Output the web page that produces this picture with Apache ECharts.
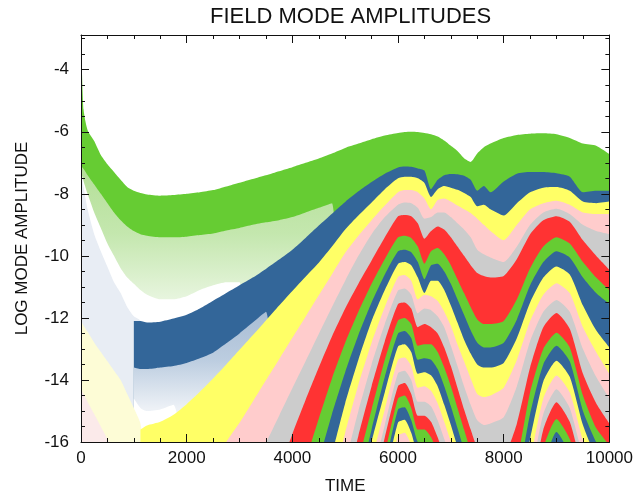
<!DOCTYPE html>
<html>
<head>
<meta charset="utf-8">
<title>Field mode amplitudes</title>
<script src="https://cdn.jsdelivr.net/npm/echarts@6/dist/echarts.min.js"></script>
<style>
html, body { margin: 0; padding: 0; background: #fff; }
#chart { width: 636px; height: 500px; }
</style>
</head>
<body>
<div id="chart"></div>
<script>
// shared time grid (denser early on and around the first collapse)
var times = [0, 50, 125, 250, 375, 500, 625, 750, 875, 1000, 1125, 1250,
  1500, 1750, 2000, 2250, 2500, 2750, 3000, 3250, 3500, 3750, 4000, 4250, 4500, 4750, 5000, 5250, 5500, 5750,
  6000, 6125, 6250, 6375, 6500, 6625, 6750, 6875, 7000, 7125, 7250, 7375, 7500, 7625, 7750,
  8000, 8250, 8500, 8750, 9000, 9250, 9500, 9750, 10000];

var yTicks = [-16, -14, -12, -10, -8, -6, -4];

// mode 1 (green): top of band, bottom of solid part, bottom of faint fringe
var mode1Top = [-2.85, -5.3, -5.95, -6.3, -6.75, -7.05, -7.3, -7.55, -7.78, -7.9, -7.97, -8.02,
  -8.06, -8.04, -8.0, -7.95, -7.88, -7.76, -7.64, -7.52, -7.4, -7.27, -7.14, -7.0, -6.86, -6.7, -6.52, -6.38, -6.24, -6.12,
  -6.04, -6.01, -6.0, -6.01, -6.04, -6.08, -6.15, -6.28, -6.45, -6.62, -6.85, -6.97, -6.7, -6.5, -6.38,
  -6.2, -6.1, -6.06, -6.05, -6.08, -6.2, -6.38, -6.45, -6.72];
var mode1Solid = [-7.1, -7.2, -7.4, -7.7, -8.0, -8.3, -8.6, -8.85, -9.05, -9.2, -9.3, -9.35,
  -9.4, -9.4, -9.38, -9.33, -9.28, -9.18, -9.1, -9.0, -8.92, -8.85, -8.75, -8.6, -8.45, -8.3, -17];
var mode1Fringe = [-7.3, -7.6, -8.0, -8.6, -9.1, -9.6, -10.0, -10.4, -10.7, -10.9, -11.1, -11.25,
  -11.4, -11.4, -11.3, -11.1, -10.95, -10.85, -10.85, -17];

// mode 2 (blue)
var mode2Haze = [-7.3, -7.8, -8.5, -9.3, -9.85, -10.35, -10.85, -11.2, -11.65, -11.95, -12.1, -17];
var mode2Top = [-12.1, -12.1, -12.15, -12.12, -12.02, -11.9, -11.7, -11.45, -11.2, -10.95, -10.7,
  -10.42, -10.12, -9.8, -9.42, -9.02, -8.64, -8.26, -7.92, -7.62, -7.35,
  -7.15, -7.12, -7.13, -7.18, -7.25, -7.85, -7.55, -7.4, -7.36, -7.37, -7.42, -7.55, -7.9, -7.75, -7.95,
  -7.6, -7.35, -7.3, -7.3, -7.34, -7.45, -7.95, -7.9, -7.9];
var mode2Solid = [-13.6, -13.65, -13.65, -13.6, -13.55, -13.45, -13.3, -13.12, -12.82, -12.5, -12.15, -11.8, -17];
var mode2Fringe = [-14.6, -14.9, -15.0, -14.95, -14.8, -17];

// mode 3 (yellow)
var mode3Haze = [-12.1, -12.25, -12.45, -12.8, -13.1, -13.4, -13.7, -14.0, -14.45, -14.9, -15.4, -17];
var mode3Top = [-15.6, -15.47, -15.35, -15.12, -14.78, -14.38, -13.95, -13.5, -13.03, -12.56,
  -12.08, -11.6, -11.13, -10.67, -10.22, -9.7, -9.15, -8.7, -8.28, -7.85,
  -7.5, -7.45, -7.45, -7.5, -7.65, -8.1, -7.85, -7.75, -7.8, -7.87, -7.97, -8.1, -8.4, -8.35, -8.5,
  -8.7, -8.3, -7.95, -7.8, -7.78, -7.9, -8.25, -8.3, -8.25];

// mode 4 faint start near the lower left corner
var mode4Haze = [-14.3, -14.45, -14.7, -15.1, -15.5, -15.9, -16.3, -17];

// modes 4..22: top edge of each band, listed from its start time to 10000
var mode4 = [-16.8, -16.0, -15.38, -14.7, -14.01, -13.33, -12.64, -11.96, -11.27, -10.59, -9.9, -9.35, -8.85, -8.38,
  -7.95, -7.88, -7.88, -7.95, -8.15, -8.5, -8.2, -8.15, -8.25, -8.38, -8.5, -8.62, -8.8, -9.0, -9.2,
  -9.5, -9.0, -8.5, -8.3, -8.22, -8.35, -8.6, -8.65, -8.65];
var mode5 = [-16.9, -16.03, -15.15, -14.27, -13.4, -12.52, -11.65, -10.8, -10.0, -9.3, -8.75,
  -8.35, -8.28, -8.3, -8.45, -8.8, -8.75, -8.6, -8.6, -8.75, -8.95, -9.15, -9.4, -9.8, -9.95, -10.05,
  -10.2, -9.7, -9.0, -8.6, -8.48, -8.65, -9.0, -9.2, -9.3];
var mode6 = [-16.9, -15.75, -14.65, -13.6, -12.6, -11.7, -10.9, -10.15, -9.4,
  -8.72, -8.68, -8.72, -8.95, -9.45, -9.2, -9.05, -9.15, -9.4, -9.7, -10.0, -10.3, -10.55, -10.65, -10.7,
  -10.65, -10.1, -9.3, -8.85, -8.72, -8.9, -9.5, -10.0, -10.45];
var mode7 = [-16.6, -15.25, -13.95, -12.8, -11.8, -10.9, -10.1,
  -9.4, -9.35, -9.42, -9.7, -10.25, -9.85, -9.75, -9.95, -10.3, -10.75, -11.2, -11.65, -12.05, -12.2, -12.2,
  -12.1, -11.4, -10.4, -9.7, -9.4, -9.6, -10.2, -10.7, -11.1];
var mode8 = [-16.6, -15.1, -13.75, -12.55, -11.5, -10.6,
  -9.85, -9.8, -9.88, -10.2, -10.75, -10.3, -10.25, -10.5, -10.9, -11.4, -11.9, -12.4, -12.8, -12.95, -12.95,
  -12.8, -12.05, -10.95, -10.2, -9.85, -10.05, -10.7, -11.2, -11.55];
var mode9 = [-16.4, -14.75, -13.35, -12.1, -11.1,
  -10.26, -10.2, -10.3, -10.7, -11.2, -10.8, -10.8, -11.1, -11.6, -12.15, -12.7, -13.15, -13.5, -13.6, -13.6,
  -13.45, -12.65, -11.5, -10.7, -10.34, -10.6, -11.6, -12.4, -12.95];
var mode10 = [-17.4, -15.7, -14.15, -12.8, -11.65,
  -10.68, -10.62, -10.8, -11.4, -11.25, -11.3, -11.45, -11.8, -12.25, -12.85, -13.4, -13.95, -14.45, -14.55, -14.5,
  -14.25, -13.35, -12.1, -11.25, -10.88, -11.2, -12.3, -13.1, -13.8];
var mode11 = [-16.7, -15.0, -13.5, -12.2,
  -11.12, -11.05, -11.25, -11.85, -11.7, -11.75, -11.95, -12.3, -12.9, -13.55, -14.2, -14.8, -15.3, -15.45, -15.4,
  -15.2, -14.2, -12.75, -11.8, -11.42, -11.8, -13.0, -13.9, -14.6];
var mode12 = [-17.6, -15.8, -14.2, -12.75,
  -11.55, -11.5, -11.7, -12.3, -12.2, -12.3, -12.5, -12.95, -13.55, -14.25, -14.95, -15.6, -16.2, -16.5, -16.6,
  -16.5, -15.4, -13.6, -12.3, -11.84, -12.35, -13.8, -14.75, -15.4];
var mode13 = [-16.6, -14.95, -13.35,
  -12.08, -12.0, -12.2, -12.9, -12.85, -12.85, -13.1, -13.6, -14.2, -14.9, -15.6, -16.3, -16.9, -17.3, -17.5,
  -17.6, -16.6, -14.4, -13.0, -12.48, -12.95, -14.5, -15.55, -16.1];
var mode14 = [-17.4, -15.6, -13.9,
  -12.5, -12.42, -12.65, -13.35, -13.3, -13.35, -13.65, -14.2, -14.85, -15.55, -16.25, -16.9, -17.4, -17.8, -18.0,
  -18.1, -17.3, -15.1, -13.5, -12.9, -13.4, -15.0, -16.0, -16.7];
var mode15 = [-18.1, -16.0, -14.4,
  -12.92, -12.85, -13.1, -13.8, -13.75, -13.85, -14.2, -14.8, -15.45, -16.15, -16.85, -17.4, -17.9, -18.2, -18.4,
  -18.5, -17.9, -15.9, -14.05, -13.38, -13.9, -15.45, -16.5, -17.2];
var mode16 = [-16.6, -14.95,
  -13.35, -13.28, -13.55, -14.25, -14.2, -14.35, -14.75, -15.35, -16.0, -16.7, -17.3, -17.8, -18.2, -18.5, -18.7,
  -18.8, -18.4, -16.6, -14.6, -13.86, -14.4, -15.95, -17.0, -17.6];
var mode17 = [-17.2, -15.45,
  -13.78, -13.7, -14.0, -14.7, -14.7, -14.85, -15.3, -15.9, -16.5, -17.1, -17.6, -18.0, -18.4, -18.7, -18.9,
  -19.0, -18.8, -17.2, -15.1, -14.3, -14.9, -16.45, -17.4, -18.0];
var mode18 = [-17.8, -15.85,
  -14.2, -14.1, -14.45, -15.15, -15.15, -15.35, -15.85, -16.45, -17.0, -17.5, -18.0, -18.4, -18.7, -19.0, -19.2,
  -19.3, -19.1, -17.8, -15.6, -14.72, -15.35, -16.9, -17.8, -18.4];
var mode19 = [-16.4,
  -14.6, -14.5, -14.9, -15.6, -15.6, -15.85, -16.35, -16.9, -17.4, -17.9, -18.3, -18.6, -18.9, -19.2, -19.4,
  -19.5, -19.3, -18.4, -16.2, -15.26, -15.9, -17.4, -18.2, -18.8];
var mode20 = [-16.8,
  -14.95, -14.88, -15.3, -16.0, -16.05, -16.35, -16.85, -17.4, -17.9, -18.3, -18.7, -19.0, -19.3, -19.5, -19.7,
  -19.8, -19.6, -19.0, -16.8, -15.68, -16.4, -17.9, -18.7, -19.2];
var mode21 = [-17.2,
  -15.37, -15.28, -15.7, -16.4, -16.5, -16.8, -17.3, -17.8, -18.3, -18.7, -19.0, -19.3, -19.6, -19.8, -20.0,
  -20.0, -20.0, -19.6, -17.4, -16.1, -16.9, -18.4, -19.2, -19.6];
var mode22 = [-17.6,
  -15.8, -15.7, -16.1, -16.8, -17.0, -17.3, -17.8, -18.3, -18.7, -19.1, -19.4, -19.7, -20.0, -20.0, -20.0,
  -20.0, -20.0, -20.0, -18.0, -16.5, -17.4, -18.8, -19.6, -20.0];

var modeStarts = [2500, 3250, 3750, 4250, 4500, 4750, 4750, 5000, 5000, 5250, 5250, 5250,
  5500, 5500, 5500, 5750, 5750, 5750, 5750];
var modeTops = [mode4, mode5, mode6, mode7, mode8, mode9, mode10, mode11, mode12, mode13, mode14, mode15,
  mode16, mode17, mode18, mode19, mode20, mode21, mode22];

// colour cycle of the modes: green, blue, yellow, pink, grey, red
var palette = ['#66cc33', '#336699', '#ffff66', '#ffcccc', '#cccccc', '#ff3333'];

function fade(stops) {
  return new echarts.graphic.LinearGradient(0, 0, 0, 1, stops.map(function (s) {
    return { offset: s[0], color: s[1] };
  }));
}

// each layer fills from its curve down to the bottom of the plot; later layers paint over earlier ones
function layer(start, vals, color) {
  var i0 = times.indexOf(start);
  return {
    type: 'line',
    data: vals.map(function (v, i) { return [times[i0 + i], v]; }),
    symbol: 'none',
    smooth: 0.2,
    lineStyle: { opacity: 0 },
    areaStyle: { color: color, opacity: 1, origin: 'start' },
    silent: true
  };
}

var series = [
  layer(0, mode1Top, palette[0]),
  layer(0, mode1Solid, fade([[0, '#b4df98'], [0.22, '#c4e7ae'], [0.45, '#eaf6e2'], [1, '#ffffff']])),
  layer(0, mode1Fringe, '#ffffff'),
  layer(0, mode2Haze, '#e8edf4'),
  layer(1000, mode2Top, palette[1]),
  layer(1000, mode2Solid, fade([[0, '#a9bdd4'], [0.3, '#bccde0'], [0.6, '#edf1f6'], [1, '#ffffff']])),
  layer(1000, mode2Fringe, '#ffffff'),
  layer(0, mode3Haze, '#fdfcd6'),
  layer(1125, mode3Top, palette[2]),
  layer(0, mode4Haze, '#fbeaea')
];
modeTops.forEach(function (vals, k) {
  series.push(layer(modeStarts[k], vals, palette[(k + 3) % 6]));
});

var font = 'Liberation Sans, Helvetica, Arial, sans-serif';
var ink = '#111';

function xAx(pos, labels) {
  return {
    type: 'value', position: pos, min: 0, max: 10000, interval: 2000, z: 10,
    name: labels ? 'TIME' : '', nameLocation: 'middle', nameGap: 36,
    nameTextStyle: { fontFamily: font, fontSize: 17, color: ink },
    axisLine: { show: true, lineStyle: { color: ink, width: 1 } },
    axisTick: { show: true, inside: true, length: 8, lineStyle: { color: ink } },
    minorTick: { show: true, splitNumber: 4, length: 4, lineStyle: { color: ink } },
    axisLabel: { show: labels, fontFamily: font, fontSize: 17, color: ink, margin: 8,
      formatter: function (v) { return String(v); } },
    splitLine: { show: false }
  };
}
function yAx(pos, step, len, labels, line) {
  return {
    type: 'value', position: pos, min: -16, max: -2.88, interval: step, z: 10,
    name: labels ? 'LOG MODE AMPLITUDE' : '', nameLocation: 'middle', nameGap: 50,
    nameTextStyle: { fontFamily: font, fontSize: 17, color: ink },
    axisLine: { show: line, onZero: false, lineStyle: { color: ink, width: 1 } },
    axisTick: { show: true, inside: true, length: len, lineStyle: { color: ink } },
    axisLabel: { show: labels, fontFamily: font, fontSize: 17, color: ink, margin: 12,
      formatter: function (v) { return yTicks.indexOf(v) >= 0 ? String(v) : ''; } },
    splitLine: { show: false }
  };
}

var chart = echarts.init(document.getElementById('chart'), null, { renderer: 'canvas' });
chart.setOption({
  animation: false,
  backgroundColor: '#fff',
  title: {
    text: 'FIELD MODE AMPLITUDES', left: 205, top: 1,
    textStyle: { fontFamily: font, fontSize: 22, fontWeight: 'normal', color: ink }
  },
  grid: { left: 81, right: 25, top: 35, bottom: 55 },
  xAxis: [xAx('bottom', true), xAx('top', false)],
  yAxis: [
    yAx('left', 2, 8, true, true),
    yAx('left', 0.5, 4, false, false),
    yAx('right', 2, 8, false, true),
    yAx('right', 0.5, 4, false, false)
  ],
  series: series
});
</script>
</body>
</html>
